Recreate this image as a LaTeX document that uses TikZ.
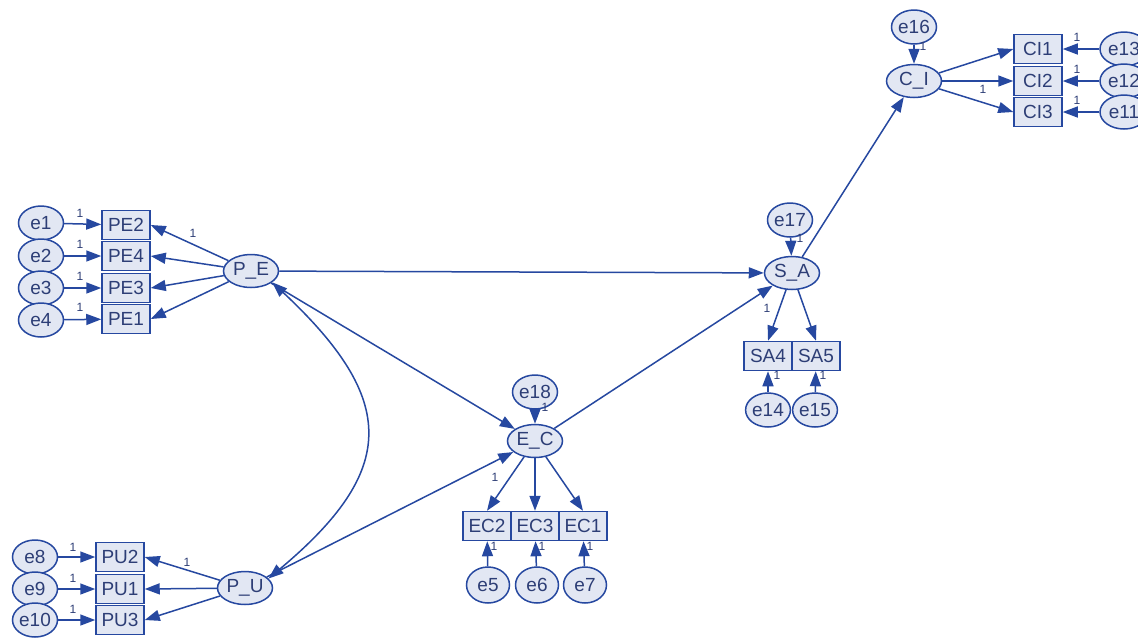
\documentclass[tikz,border=0pt]{standalone}
\usepackage{fontspec}
\setmainfont{Liberation Sans}
\usetikzlibrary{shapes.geometric,arrows.meta}
\definecolor{semline}{RGB}{38,72,160}
\definecolor{semfill}{RGB}{226,231,243}
\definecolor{semtext}{RGB}{45,62,118}
\tikzset{
  base/.style={draw=semline, fill=semfill, line width=1.5pt, text=semtext, inner sep=0pt,
    font=\fontsize{19}{19}\selectfont},
  lat/.style={base, ellipse, minimum width=55pt, minimum height=33pt},
  err/.style={base, ellipse, minimum width=45pt, minimum height=34pt},
  obs/.style={base, rectangle, minimum width=48pt, minimum height=29pt},
  semtip/.tip={Triangle[length=15pt,width=11pt]},
  reg/.style={-semtip, draw=semline, line width=1.5pt},
  cov/.style={semtip-semtip, draw=semline, line width=1.5pt},
  one/.style={text=semtext, font=\fontsize{12}{12}\selectfont, inner sep=0pt},
}
\begin{document}
\begin{tikzpicture}[x=1pt,y=-1pt]
\useasboundingbox (0,0) rectangle (1138,641);
\fill[white] (0,0) rectangle (1138,641);

% latent variables
\node[lat] (PE) at (251,271) {P\_E};
\node[lat] (PU) at (245,588) {P\_U};
\node[lat] (EC) at (535,441) {E\_C};
\node[lat] (SA) at (792,273) {S\_A};
\node[lat] (CI) at (914,81) {C\_I};

% P_E indicators
\node[obs] (PE2) at (126,225) {PE2};
\node[obs] (PE4) at (126,256) {PE4};
\node[obs] (PE3) at (126,288) {PE3};
\node[obs] (PE1) at (126,319) {PE1};
\node[err] (e1) at (41,223) {e1};
\node[err] (e2) at (41,256) {e2};
\node[err] (e3) at (41,288) {e3};
\node[err] (e4) at (41,320) {e4};

% P_U indicators
\node[obs] (PU2) at (120,557) {PU2};
\node[obs] (PU1) at (120,589) {PU1};
\node[obs] (PU3) at (120,620) {PU3};
\node[err] (e8) at (35,557) {e8};
\node[err] (e9) at (35,589) {e9};
\node[err] (e10) at (35,620) {e10};

% E_C indicators
\node[err] (e18) at (535,392) {e18};
\node[obs] (EC2) at (487,526) {EC2};
\node[obs] (EC3) at (535,526) {EC3};
\node[obs] (EC1) at (583,526) {EC1};
\node[err, minimum width=43pt, minimum height=36pt] (e5) at (488,585) {e5};
\node[err, minimum width=43pt, minimum height=36pt] (e6) at (537,585) {e6};
\node[err, minimum width=43pt, minimum height=36pt] (e7) at (585,585) {e7};

% S_A indicators
\node[err] (e17) at (790,220) {e17};
\node[obs] (SA4) at (768,356) {SA4};
\node[obs] (SA5) at (816,356) {SA5};
\node[err, minimum width=44pt, minimum height=34pt] (e14) at (768,410) {e14};
\node[err, minimum width=44pt, minimum height=34pt] (e15) at (815,410) {e15};

% C_I indicators
\node[err] (e16) at (914,27) {e16};
\node[obs] (CI1) at (1038,49) {CI1};
\node[obs] (CI2) at (1038,81) {CI2};
\node[obs] (CI3) at (1038,112) {CI3};
\node[err, minimum width=48pt] (e13) at (1124,49) {e13};
\node[err, minimum width=48pt] (e12) at (1124,81) {e12};
\node[err, minimum width=48pt] (e11) at (1124,112) {e11};

% measurement paths
\foreach \e/\o in {e1/PE2,e2/PE4,e3/PE3,e4/PE1,e8/PU2,e9/PU1,e10/PU3,
                   e5/EC2,e6/EC3,e7/EC1,e14/SA4,e15/SA5,e13/CI1,e12/CI2,e11/CI3}
  \draw[reg] (\e) -- (\o);
\foreach \o in {PE2,PE4,PE3,PE1} \draw[reg] (PE) -- (\o.east);
\foreach \o in {PU2,PU1,PU3} \draw[reg] (PU) -- (\o.east);
\foreach \o in {EC2,EC3,EC1} \draw[reg] (EC) -- (\o.north);
\foreach \o in {SA4,SA5} \draw[reg] (SA) -- (\o.north);
\foreach \o in {CI1,CI2,CI3} \draw[reg] (CI) -- (\o.west);
\draw[reg] (e18) -- (EC);
\draw[reg] (e17) -- (SA);
\draw[reg] (e16) -- (CI);

% structural paths
\draw[reg] (PE) -- (SA);
\draw[reg] (PE) -- (EC);
\draw[reg] (PU) -- (EC);
\draw[reg] (EC) -- (SA);
\draw[reg] (SA) -- (CI);
\draw[cov] (PE.-28) .. controls (398,400) and (398,470) .. (PU.22);

% fixed parameters
\node[one] (w1) at (80,213) {1};
\node[one] (w2) at (80,244) {1};
\node[one] (w3) at (80,276) {1};
\node[one] (w4) at (80,307) {1};
\node[one] (w5) at (193,233) {1};
\node[one] (w8) at (73,547) {1};
\node[one] (w9) at (73,578) {1};
\node[one] (w10) at (73,609) {1};
\node[one] (w11) at (187,562) {1};
\node[one] (w12) at (545,407) {1};
\node[one] (w13) at (495,477) {1};
\node[one] (w14) at (494,546) {1};
\node[one] (w15) at (542,546) {1};
\node[one] (w16) at (590,546) {1};
\node[one] (w17) at (800,238) {1};
\node[one] (w18) at (767,308) {1};
\node[one] (w19) at (777,375) {1};
\node[one] (w20) at (823,375) {1};
\node[one] (w21) at (923,46) {1};
\node[one] (w22) at (983,89) {1};
\node[one] (w23) at (1077,37) {1};
\node[one] (w24) at (1077,69) {1};
\node[one] (w25) at (1077,100) {1};
\end{tikzpicture}
\end{document}
